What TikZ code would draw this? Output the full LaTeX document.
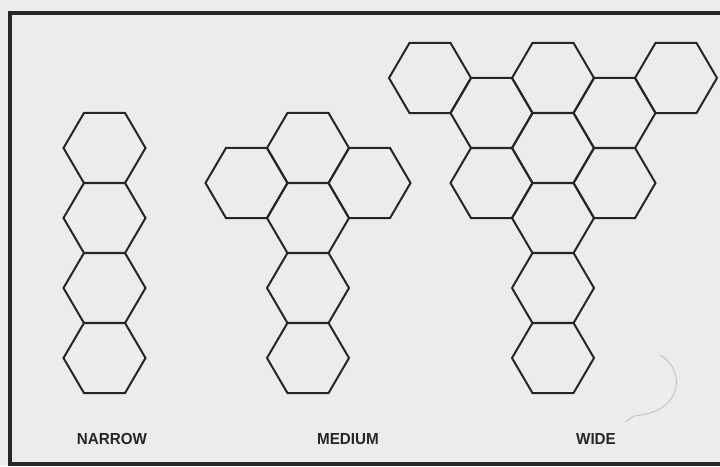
\documentclass[tikz,border=0pt]{standalone}
\usepackage{fontspec}
\usepackage{tikz}
\usetikzlibrary{shapes.geometric}
\newfontfamily\capfont{Liberation Sans}
\definecolor{ink}{HTML}{262626}
\definecolor{paper}{HTML}{ECECEA}
\definecolor{smudge}{HTML}{BDBDBD}
\tikzset{hexcell/.style={regular polygon,regular polygon sides=6,draw=ink,line width=2pt,
    minimum size=81pt,inner sep=0pt,xscale=1.0125,transform shape},
  frameline/.style={line width=4pt,draw=ink},
  caption/.style={anchor=base,text=ink,xscale=.95,transform shape,
    font=\capfont\bfseries\fontsize{16}{19}\selectfont}}

\begin{document}
\begin{tikzpicture}[x=1pt,y=-1pt]
\fill[paper] (0,0) rectangle (720,466);
\useasboundingbox (0,0) rectangle (720,466);
\draw[frameline] (730,13)--(9.5,13)--(9.5,464)--(730,464);
% narrow
\node[hexcell] (n1) at (104.5,148) {};\node[hexcell] (n2) at (104.5,218) {};
\node[hexcell] (n3) at (104.5,288) {};\node[hexcell] (n4) at (104.5,358) {};
% medium
\node[hexcell] (m1) at (308,148) {};\node[hexcell] (m2) at (246.5,183) {};
\node[hexcell] (m3) at (369.5,183) {};\node[hexcell] (m4) at (308,218) {};
\node[hexcell] (m5) at (308,288) {};\node[hexcell] (m6) at (308,358) {};
% wide
\node[hexcell] (w1) at (430,78) {};\node[hexcell] (w2) at (553,78) {};
\node[hexcell] (w3) at (676,78) {};
\node[hexcell] (w4) at (491.5,113) {};\node[hexcell] (w5) at (614.5,113) {};
\node[hexcell] (w6) at (553,148) {};
\node[hexcell] (w7) at (491.5,183) {};\node[hexcell] (w8) at (614.5,183) {};
\node[hexcell] (w9) at (553,218) {};\node[hexcell] (w10) at (553,288) {};
\node[hexcell] (w11) at (553,358) {};
\draw[smudge,line width=.8pt] (660,355) .. controls (686,370) and (684,412) .. (634,416) -- (625,422);
\node[caption] (narrowlbl) at (112,444) {NARROW};
\node[caption] (mediumlbl) at (348,444) {MEDIUM};
\node[caption] (widelbl) at (596,444) {WIDE};
\end{tikzpicture}
\end{document}
